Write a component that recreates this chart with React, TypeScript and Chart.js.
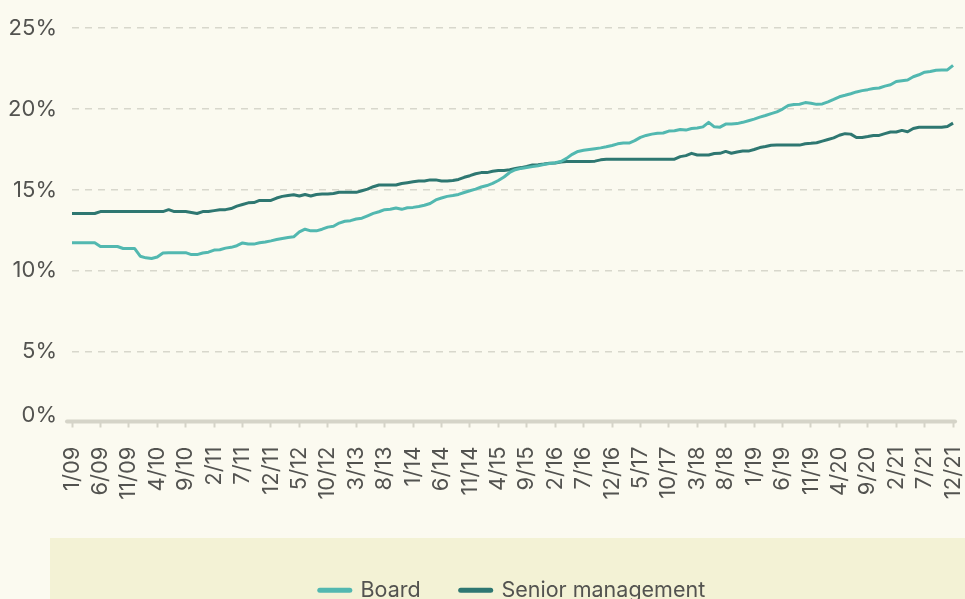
import React, { useEffect, useRef } from 'react';
import { Chart, registerables } from 'chart.js';

Chart.register(...registerables);

const tickLabels = ['1/09','6/09','11/09','4/10','9/10','2/11','7/11','12/11','5/12','10/12','3/13','8/13','1/14','6/14','11/14','4/15','9/15','2/16','7/16','12/16','5/17','10/17','3/18','8/18','1/19','6/19','11/19','4/20','9/20','2/21','7/21','12/21'];

const seriesNames = ['Board', 'Senior management'];

const yTickValues = [5, 10, 15, 20, 25];

const board = [
  11.73, 11.73, 11.73, 11.73, 11.73,
  11.5, 11.5, 11.5, 11.5,
  11.38, 11.38, 11.38,
  10.9, 10.8, 10.76, 10.85, 11.1,
  11.12, 11.12, 11.12, 11.12,
  11.0, 11.0, 11.1, 11.15,
  11.28, 11.3, 11.4, 11.45, 11.55,
  11.72, 11.65, 11.65, 11.73, 11.78,
  11.85, 11.93, 12.0, 12.06, 12.1,
  12.4, 12.57, 12.47, 12.47,
  12.57, 12.7, 12.75, 12.95, 13.06, 13.1,
  13.2, 13.25, 13.4, 13.55, 13.65, 13.78, 13.8, 13.88, 13.8, 13.9,
  13.92, 13.98, 14.05, 14.16, 14.38, 14.5, 14.6, 14.65, 14.72, 14.84,
  14.95, 15.05, 15.18, 15.27, 15.4, 15.58, 15.8, 16.08, 16.25, 16.33,
  16.38, 16.44, 16.5, 16.57, 16.63, 16.68, 16.76, 16.95, 17.2, 17.38,
  17.45, 17.5, 17.55, 17.6, 17.67, 17.75, 17.85, 17.9, 17.9, 18.05,
  18.25, 18.37, 18.45, 18.5, 18.52, 18.64, 18.66, 18.74, 18.7, 18.8,
  18.83, 18.9, 19.18, 18.9, 18.88, 19.07, 19.08, 19.1, 19.18, 19.28,
  19.38, 19.5, 19.6, 19.72, 19.83, 20.0, 20.22, 20.28, 20.3, 20.4,
  20.36, 20.29, 20.32, 20.45, 20.6, 20.76, 20.85, 20.95, 21.06, 21.14,
  21.2, 21.27, 21.3, 21.42, 21.5, 21.7, 21.75, 21.8, 22.0, 22.12,
  22.28, 22.32, 22.4, 22.42, 22.42, 22.7,
];

const senior = [
  13.54, 13.54, 13.54, 13.54, 13.54,
  13.66, 13.66, 13.66, 13.66, 13.66, 13.66, 13.66, 13.66, 13.66, 13.66, 13.66, 13.66,
  13.78,
  13.66, 13.66, 13.66,
  13.6, 13.54,
  13.66, 13.66,
  13.72, 13.78, 13.78,
  13.85, 14.0, 14.1, 14.2, 14.22, 14.35, 14.35, 14.35, 14.5, 14.6,
  14.65, 14.7, 14.62, 14.72, 14.62, 14.72,
  14.75, 14.75, 14.78, 14.85, 14.85, 14.85,
  14.85, 14.95, 15.05, 15.2, 15.3, 15.3, 15.3, 15.3, 15.4, 15.45,
  15.5, 15.55, 15.55, 15.62, 15.62, 15.55, 15.55, 15.58, 15.65, 15.78,
  15.88, 16.0, 16.07, 16.07, 16.15, 16.2, 16.2, 16.25, 16.32, 16.38,
  16.45, 16.54, 16.56, 16.6, 16.65, 16.66, 16.72, 16.76, 16.76, 16.76,
  16.76, 16.76, 16.78, 16.86, 16.9, 16.9, 16.9, 16.9, 16.9, 16.9,
  16.9, 16.9, 16.9, 16.9, 16.9, 16.9, 16.9, 17.06, 17.12, 17.26,
  17.16, 17.16, 17.16, 17.25, 17.26, 17.38, 17.27, 17.35, 17.4, 17.4,
  17.5, 17.62, 17.68, 17.76, 17.77, 17.77, 17.77, 17.77, 17.77, 17.85,
  17.88, 17.92, 18.02, 18.12, 18.22, 18.38, 18.48, 18.45, 18.24, 18.24,
  18.3, 18.37, 18.37, 18.48, 18.58, 18.58, 18.68, 18.6, 18.8, 18.87,
  18.87, 18.87, 18.87, 18.87, 18.92, 19.13,
];

const BG = '#fbfaf0';
const LEGEND_BG = '#f3f2d5';
const TEXT = '#535350';
const GRID = '#d8d7cc';
const AXIS = '#d5d4c8';
const BOARD_COLOR = '#52b8b0';
const SENIOR_COLOR = '#2e7771';
const FONT = 'Inter';

const decorPlugin = {
  id: 'decor',
  beforeDraw(chart: any) {
    const { ctx, width, height } = chart;
    ctx.save();
    ctx.fillStyle = BG;
    ctx.fillRect(0, 0, width, height);
    ctx.fillStyle = LEGEND_BG;
    ctx.fillRect(50, 538, width - 50, height - 538);
    ctx.restore();
  },
  afterLayout(chart: any) {
    if (chart.legend) {
      chart.legend.left = 60;
    }
  },
  beforeDatasetsDraw(chart: any) {
    const { ctx, chartArea } = chart;
    const xs = chart.scales.x;
    const x0 = xs.getPixelForValue(0) - 5;
    const x1 = xs.getPixelForValue(board.length - 1) + 2;
    ctx.save();
    ctx.strokeStyle = AXIS;
    ctx.lineWidth = 4;
    ctx.lineCap = 'round';
    ctx.beginPath();
    ctx.moveTo(x0, chartArea.bottom);
    ctx.lineTo(x1, chartArea.bottom);
    ctx.stroke();
    ctx.restore();
  },
};

export default function App() {
  const ref = useRef<HTMLCanvasElement>(null);
  useEffect(() => {
    document.body.style.margin = '0';
    document.body.style.overflow = 'hidden';
    document.body.style.background = BG;
    const chart = new Chart(ref.current as HTMLCanvasElement, {
      type: 'line',
      data: {
        datasets: [
          {
            label: seriesNames[0],
            data: board.map((v, i) => ({ x: i, y: v })),
            borderColor: BOARD_COLOR,
            backgroundColor: BOARD_COLOR,
            borderWidth: 3,
            pointRadius: 0,
            tension: 0,
            borderJoinStyle: 'round',
          },
          {
            label: seriesNames[1],
            data: senior.map((v, i) => ({ x: i, y: v })),
            borderColor: SENIOR_COLOR,
            backgroundColor: SENIOR_COLOR,
            borderWidth: 3,
            pointRadius: 0,
            tension: 0,
            borderJoinStyle: 'round',
          },
        ],
      },
      options: {
        responsive: false,
        animation: false,
        devicePixelRatio: 1,
        layout: { padding: { top: 27, left: 0, right: 0, bottom: 0 } },
        plugins: {
          tooltip: { enabled: false },
          legend: {
            position: 'bottom',
            align: 'center',
            labels: {
              usePointStyle: true,
              pointStyleWidth: 30,
              padding: 40,
              color: TEXT,
              font: { family: FONT, size: 21.5 },
              generateLabels: (c: any) =>
                c.data.datasets.map((ds: any, i: number) => ({
                  text: ds.label,
                  fillStyle: ds.borderColor,
                  strokeStyle: ds.borderColor,
                  lineWidth: 5,
                  lineCap: 'round',
                  pointStyle: 'line',
                  hidden: false,
                  datasetIndex: i,
                  fontColor: TEXT,
                })),
            },
          },
        },
        scales: {
          x: {
            type: 'linear',
            min: 0,
            max: 157.1,
            afterFit: (s: any) => {
              s.height = 118;
              s.paddingLeft = 0;
              s.paddingRight = 0;
            },
            grid: {
              display: true,
              drawOnChartArea: false,
              drawTicks: true,
              tickLength: 6,
              tickColor: AXIS,
              tickWidth: 2,
              color: AXIS,
            },
            border: { display: false },
            ticks: {
              stepSize: 5,
              autoSkip: false,
              includeBounds: false,
              minRotation: 90,
              maxRotation: 90,
              padding: 19,
              color: TEXT,
              font: { family: FONT, size: 22 },
              callback: (v: any) => {
                const idx = Math.round(Number(v) / 5);
                return tickLabels[idx] ?? '';
              },
            },
          },
          y: {
            min: 0.68,
            max: 25,
            afterFit: (s: any) => {
              s.width = 72;
            },
            afterBuildTicks: (s: any) => {
              s.ticks = [{ value: 1.05 }, ...yTickValues.map((v) => ({ value: v }))];
            },
            grid: {
              drawTicks: false,
              lineWidth: 1.5,
              color: (ctx: any) => (ctx.tick && ctx.tick.value < 2 ? 'rgba(0,0,0,0)' : GRID),
            },
            border: { display: false, dash: [7, 6] },
            ticks: {
              padding: 15,
              color: TEXT,
              font: { family: FONT, size: 22 },
              callback: (v: any) => (Number(v) < 2 ? '0%' : `${v}%`),
            },
          },
        },
      },
      plugins: [decorPlugin],
    } as any);
    return () => chart.destroy();
  }, []);
  return <canvas ref={ref} width={965} height={611} style={{ display: 'block' }} />;
}
